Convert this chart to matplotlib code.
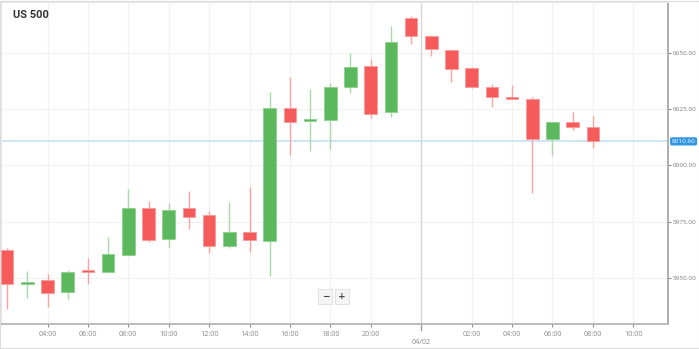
import matplotlib
matplotlib.use("Agg")
import matplotlib.pyplot as plt
import numpy as np
from matplotlib.patches import Rectangle

# hourly candles, US 500
opens = [5962.4, 5947.4, 5948.9, 5943.7, 5952.6, 5952.6, 5960.2, 5981.2, 5967.3, 5980.9,
         5977.9, 5964.3, 5970.2, 5966.3, 6025.3, 6019.5, 6020.1, 6034.6, 6044.2, 6023.8,
         6065.4, 6057.5, 6051.1, 6043.2, 6034.9, 6030.3, 6029.4, 6011.7, 6019.1, 6017.1]
highs = [5963.3, 5953.1, 5951.9, 5953.5, 5958.7, 5968.0, 5989.4, 5984.3, 5983.1, 5988.6,
         5979.8, 5983.6, 5990.2, 6032.7, 6039.1, 6033.7, 6036.7, 6050.0, 6047.2, 6061.9,
         6066.4, 6057.8, 6051.3, 6043.8, 6036.0, 6035.7, 6030.2, 6019.2, 6023.5, 6021.9]
lows = [5936.2, 5941.1, 5937.1, 5940.6, 5947.4, 5952.4, 5959.8, 5966.1, 5963.1, 5971.7,
        5961.2, 5963.1, 5961.6, 5951.0, 6004.6, 6006.5, 6007.2, 6032.2, 6020.9, 6021.3,
        6053.9, 6048.7, 6036.9, 6034.4, 6026.0, 6029.2, 5987.8, 6004.1, 6015.7, 6007.5]
closes = [5947.3, 5948.0, 5943.4, 5952.8, 5952.4, 5960.6, 5980.9, 5966.8, 5980.3, 5976.9,
          5964.3, 5970.2, 5966.8, 6025.3, 6019.4, 6020.2, 6034.9, 6043.8, 6022.8, 6054.9,
          6057.4, 6051.5, 6042.8, 6034.6, 6030.2, 6029.3, 6011.7, 6019.1, 6017.1, 6010.6]

tick_pos = [2, 4, 6, 8, 10, 12, 14, 16, 18, 23, 25, 27, 29, 31]
tick_labels = ["04:00", "06:00", "08:00", "10:00", "12:00", "14:00", "16:00", "18:00",
               "20:00", "02:00", "04:00", "06:00", "08:00", "10:00"]
day_pos = 20.5
day_label = "04/02"
price_ticks = [5950, 5975, 6000, 6025, 6050]
last_price = 6010.60

up_col = "#5cb85c"
dn_col = "#f65b5b"
up_wick = "#a9d8a9"
dn_wick = "#f9a3a3"

o = np.array(opens)
h = np.array(highs)
l = np.array(lows)
c = np.array(closes)
x = np.arange(len(o))
up = c >= o

fig = plt.figure(figsize=(6.99, 3.49), dpi=100)
ax = fig.add_axes([0.0015, 0.0716, 0.9542, 0.9227])

ax.set_xlim(-0.3, 32.72)
ax.set_ylim(5929.5, 6072.5)

# grid
for p in tick_pos:
    ax.axvline(p, color="#f2f2f2", lw=0.9, zorder=0)
for p in price_ticks:
    ax.axhline(p, color="#f2f2f2", lw=0.9, zorder=0)
ax.axvline(day_pos, color="#d6d6d6", lw=1.0, zorder=0)

# wicks
ax.vlines(x[up], l[up], h[up], color=up_wick, lw=1.0, zorder=2)
ax.vlines(x[~up], l[~up], h[~up], color=dn_wick, lw=1.0, zorder=2)

# bodies
body_lo = np.minimum(o, c)
body_h = np.maximum(np.abs(c - o), 0.9)
ax.bar(x[up], body_h[up], bottom=body_lo[up], width=0.63, color=up_col,
       edgecolor="#8fd08f", linewidth=0.6, zorder=3)
ax.bar(x[~up], body_h[~up], bottom=body_lo[~up], width=0.63, color=dn_col,
       edgecolor="#fb9a9a", linewidth=0.6, zorder=3)

# last price line
ax.axhline(last_price, color="#c9e3f6", lw=1.3, zorder=1)

# spines
for s in ["top", "left"]:
    ax.spines[s].set_color("#e8e8e8")
    ax.spines[s].set_linewidth(0.8)
ax.spines["right"].set_color("#a8a8a8")
ax.spines["right"].set_linewidth(1.3)
ax.spines["bottom"].set_color("#b5b5b5")
ax.spines["bottom"].set_linewidth(1.3)

ax.yaxis.tick_right()
ax.set_yticks(price_ticks)
ax.set_yticklabels(["%.2f" % p for p in price_ticks])
ax.set_xticks(tick_pos)
ax.set_xticklabels(tick_labels)
ax.tick_params(axis="x", labelsize=5.2, colors="#8a8a8a", length=2.5, width=0.8, pad=2.5)
ax.tick_params(axis="y", labelsize=4.6, colors="#8a8a8a", labelcolor="#7a7a7a",
               length=2.0, width=0.8, pad=1.0)
for t in ax.get_xticklabels() + ax.get_yticklabels():
    t.set_family("Open Sans")

ax.text(day_pos, -0.048, day_label, transform=ax.get_xaxis_transform(), ha="center",
        va="top", fontsize=5.2, color="#8a8a8a", family="Open Sans")
ax.plot([day_pos, day_pos], [0, -0.02], transform=ax.get_xaxis_transform(),
        color="#999999", lw=0.9, clip_on=False)

# last price tag
ax.annotate("%.2f" % last_price, xy=(1.0, last_price), xycoords=ax.get_yaxis_transform(),
            xytext=(2.6, 0), textcoords="offset points", ha="left", va="center",
            fontsize=4.6, color="white", family="Open Sans",
            bbox=dict(boxstyle="round,pad=0.25,rounding_size=0.3", fc="#2d95e3", ec="none"))

# title
fig.text(0.018, 0.956, "US 500", fontsize=8, fontweight="bold", color="#333333",
         family="Roboto", va="center", ha="left")

# zoom buttons
btn = dict(boxstyle="square,pad=0.35", fc="#f4f4f4", ec="#dddddd", lw=0.6)
fig.text(0.4655, 0.150, "\u2212", fontsize=6.5, fontweight="bold", color="#444444",
         ha="center", va="center", bbox=btn)
fig.text(0.489, 0.150, "+", fontsize=6.5, fontweight="bold", color="#444444",
         ha="center", va="center", bbox=btn)

# outer frame
fig.patches.append(Rectangle((0.0007, 0.002), 0.9986, 0.995, transform=fig.transFigure,
                             fill=False, ec="#dcdcdc", lw=0.8))

fig.savefig("out.png", dpi=100, facecolor="white")
